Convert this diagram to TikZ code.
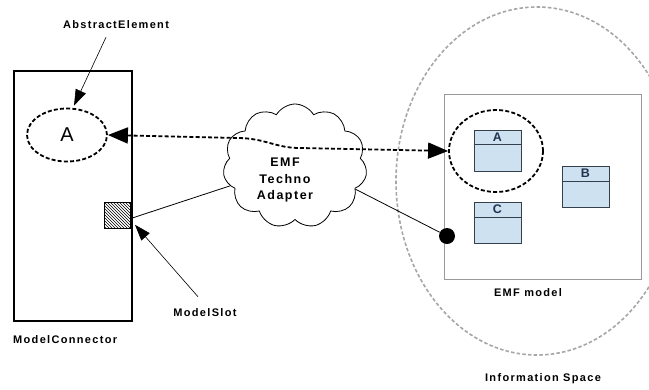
\documentclass[tikz,border=0pt]{standalone}
\usepackage{fontspec}
\setmainfont{Liberation Sans}
\newfontfamily\spacedfont[LetterSpace=12]{Liberation Sans}
\usetikzlibrary{shapes.symbols,shapes.geometric,arrows.meta,patterns}
\definecolor{clsfill}{HTML}{CDE1F0}
\definecolor{clsdraw}{HTML}{34404C}
\definecolor{clstext}{HTML}{1F3550}
\tikzset{
  lbl/.style={font=\spacedfont\bfseries\fontsize{11}{12}\selectfont, inner sep=0pt},
  blkdash/.style={line width=1.8pt, dash pattern=on 4pt off 2.2pt},
  classbox/.style={draw=clsdraw, fill=clsfill, line width=0.9pt, minimum width=47pt, minimum height=41pt, inner sep=0pt},
  clslabel/.style={font=\bfseries\fontsize{12.5}{13}\selectfont, text=clstext, inner sep=0pt},
  pointer/.style={line width=0.6pt, -{Triangle[length=16pt,width=11pt]}},
  bigtip/.tip={Triangle[length=20pt,width=16pt]},
}
\begin{document}
\begin{tikzpicture}[x=1pt,y=-1pt]
\useasboundingbox (0,0) rectangle (649,389);

% Information space
\node[ellipse, draw=gray!70, line width=1.6pt, dash pattern=on 3.5pt off 2.2pt,
      minimum width=282pt, minimum height=348pt, inner sep=0pt] (is) at (537,181) {};
\node[lbl] (islbl) at (543,379) {Information Space};

% EMF model
\node[draw=gray!80, line width=0.8pt, minimum width=197pt, minimum height=185pt,
      inner sep=0pt, anchor=north west] (emf) at (444,94) {};
\node[lbl] (emflbl) at (528,293) {EMF model};

% classes
\node[classbox] (ka) at (497.5,150.5) {};
\draw[clsdraw, line width=0.9pt] ([yshift=-15pt]ka.north west) -- ([yshift=-15pt]ka.north east);
\node[clslabel] at ([yshift=-7.5pt]ka.north) {A};
\node[classbox] (kb) at (585.5,187) {};
\draw[clsdraw, line width=0.9pt] ([yshift=-15pt]kb.north west) -- ([yshift=-15pt]kb.north east);
\node[clslabel] at ([yshift=-7.5pt]kb.north) {B};
\node[classbox] (kc) at (497.5,223) {};
\draw[clsdraw, line width=0.9pt] ([yshift=-15pt]kc.north west) -- ([yshift=-15pt]kc.north east);
\node[clslabel] at ([yshift=-7.5pt]kc.north) {C};

% dashed circle around A
\node[ellipse, draw, blkdash, minimum width=94pt, minimum height=82pt, inner sep=0pt] (ca) at (496,151) {};

% black dot
\node[circle, fill=black, minimum size=16pt, inner sep=0pt] (dot) at (447,236) {};

% Model connector
\node[draw, line width=1.8pt, minimum width=118pt, minimum height=250pt,
      inner sep=0pt, anchor=north west] (mc) at (13,70) {};
\node[lbl, anchor=west] (mclbl) at (13,340) {ModelConnector};

% abstract element
\node[ellipse, draw, blkdash, minimum width=80pt, minimum height=53pt, inner sep=0pt] (ea) at (67,135)
  {\fontsize{20}{20}\selectfont A};
\node[lbl] (ael) at (116,25) {AbstractElement};

% slot
\node[draw, line width=0.8pt, pattern=north west lines, minimum size=26pt, inner sep=0pt,
      anchor=north east] (slot) at (131,202) {};
\node[lbl] (msl) at (205,313) {ModelSlot};

% cloud
\node[cloud, draw, line width=0.8pt, cloud puffs=11, cloud puff arc=120, aspect=1.15,
      minimum width=144pt, minimum height=124pt, inner sep=0pt] (cl) at (295,166) {};
\node[align=center, inner sep=0pt, font=\spacedfont\bfseries\fontsize{12.5}{16.5}\selectfont]
  (cltxt) at (285,180) {EMF\\Techno\\Adapter};

% connectors
\draw[line width=0.8pt] ([yshift=-3pt]slot.east) -- (cl.197);
\draw[line width=0.8pt] (cl.-21) -- (dot);
\coordinate (c1) at (237,138);
\coordinate (c2) at (300,148);
\draw[blkdash, bigtip-bigtip]
  (ea.east) -- (c1) .. controls (265,138) and (275,148) .. (c2) -- (ca.west);
\draw[pointer] ([xshift=-10pt,yshift=-8pt]ael.south) -- ([xshift=7pt,yshift=2pt]ea.north);
\draw[pointer] ([xshift=-7pt,yshift=12pt]msl.north) -- ([shift={(4pt,4pt)}]slot.south east);
\end{tikzpicture}
\end{document}
